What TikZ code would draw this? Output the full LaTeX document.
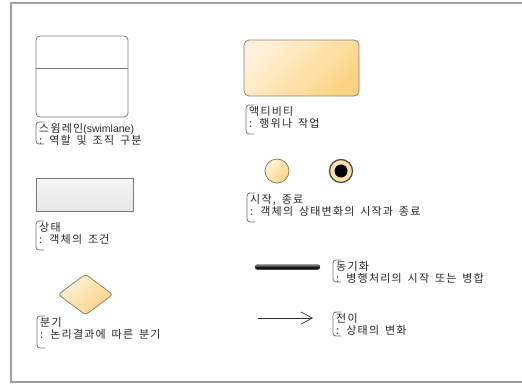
\documentclass[tikz,border=0pt]{standalone}
\usepackage{fontspec}
\setmainfont{Noto Sans CJK KR}[LetterSpace=11,WordSpace=1.6]
\newfontfamily\latinpart{Liberation Sans}
\usetikzlibrary{shapes.geometric,arrows.meta}
\definecolor{orL}{HTML}{FFF2DA}
\definecolor{orD}{HTML}{FCD385}
\definecolor{orB}{HTML}{8F806A}
\definecolor{grB}{HTML}{7A7A7A}
\definecolor{frameC}{HTML}{A0A0A0}
\definecolor{txt}{HTML}{262626}
\definecolor{brkC}{HTML}{707070}
\tikzset{
  orangefill/.style={top color=orL, bottom color=orD, shading angle=45},
  notetext/.style={anchor=north west, inner sep=0pt, align=left, text=txt,
    font=\fontsize{11}{12}\selectfont},
  brk/.style={draw=brkC, line width=0.8pt, rounded corners=3pt},
  shapeline/.style={line width=0.8pt},
}
\newcommand\notebrk[5]{%
  \node[notetext] (#1) at (#2+3,#3+1) {#5};
  \draw[brk] (#2+8,#3) -- (#2,#3) -- (#2,#4) -- (#2+8,#4);
}
\begin{document}
\begin{tikzpicture}[x=1pt,y=-1pt]
\useasboundingbox (0,0) rectangle (522,383);
% frame
\draw[frameC, line width=1.2pt] (11,383) -- (11,3) -- (523,3);
\draw[frameC, line width=1.2pt] (11,382) -- (523,382);
% swimlane
\node[shapeline, draw=grB, fill=white, rounded corners=4pt, minimum width=92pt, minimum height=81pt, inner sep=0pt] (swim) at (82,76.5) {};
\draw[shapeline, draw=grB] (swim.west |- 0,68) -- (swim.east |- 0,68);
\notebrk{n1}{36}{122}{144}{스윔레인{\latinpart\fontsize{10.5}{12}\selectfont(swimlane)}\\: 역할 및 조직 구분}
% state
\node[shapeline, draw=grB, top color=white!96!black, bottom color=white!91!black, minimum width=97pt, minimum height=33pt, inner sep=0pt] (state) at (84.5,194.5) {};
\notebrk{n2}{36}{221}{250}{상태\\: 객체의 조건}
% decision
\node[diamond, shapeline, draw=orB, orangefill, rounded corners=3pt, minimum width=55pt, minimum height=41pt, inner sep=0pt] (dec) at (85.5,294.5) {};
\notebrk{n3}{37}{316}{348}{분기\\: 논리결과에 따른 분기}
% activity
\node[shapeline, draw=orB, orangefill, rounded corners=5pt, minimum width=115pt, minimum height=56pt, inner sep=0pt] (act) at (301.5,68) {};
\notebrk{n4}{246}{105}{134}{액티비티\\: 행위나 작업}
% start / end
\node[circle, shapeline, draw=orB, orangefill, minimum size=24pt, inner sep=0pt] (init) at (277,171) {};
\node[circle, line width=1.3pt, draw=black!70, fill=orD!70!white, minimum size=23pt, inner sep=0pt] (fin) at (341,171) {};
\node[circle, fill=black, minimum size=13pt, inner sep=0pt] (finin) at (fin.center) {};
\notebrk{n5}{247}{193}{222}{시작, 종료\\: 객체의 상태변화의 시작과 종료}
% sync bar
\node[rounded corners=2.5pt, top color=black!45, bottom color=black, middle color=black!90, draw=black!80, line width=0.3pt, minimum width=65pt, minimum height=5pt, inner sep=0pt] (sync) at (287.5,267) {};
\notebrk{n6}{333}{260}{282}{동기화\\: 병행처리의 시작 또는 병합}
% transition
\coordinate (ta) at (258,318);
\coordinate (tb) at (313,318);
\draw[line width=0.7pt, black!80, -{Straight Barb[length=11pt,width=12pt]}] (ta) -- (tb);
\notebrk{n7}{333}{312}{336}{전이\\: 상태의 변화}
\end{tikzpicture}
\end{document}
